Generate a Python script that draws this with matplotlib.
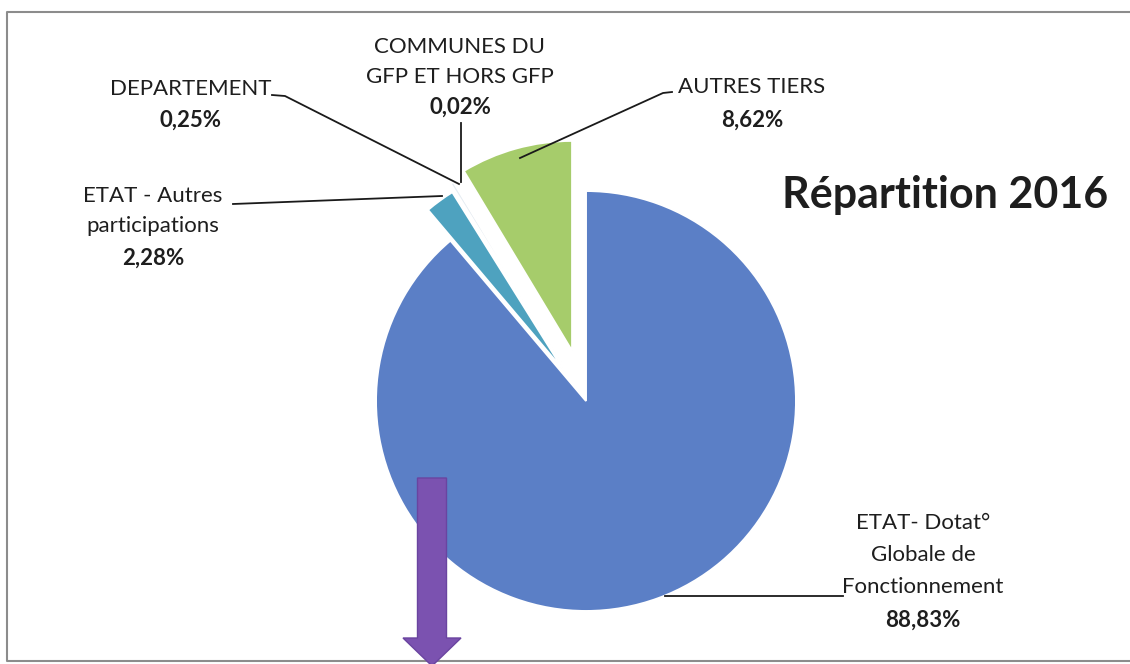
import matplotlib
matplotlib.use("Agg")
import matplotlib.pyplot as plt
from matplotlib.patches import FancyArrow

# Données de la répartition 2016
categories = ["ETAT- Dotat°\nGlobale de\nFonctionnement",
              "ETAT - Autres\nparticipations",
              "DEPARTEMENT",
              "COMMUNES DU\nGFP ET HORS GFP",
              "AUTRES TIERS"]
valeurs = [88.83, 2.28, 0.25, 0.02, 8.62]
couleurs = ["#5b7fc6", "#4ea2bf", "#e6ecf2", "#e6ecf2", "#a6cc6b"]
titre = "Répartition 2016"

W, H = 1130, 664
plt.rcParams['font.family'] = ['Lato', 'DejaVu Sans']

fig = plt.figure(figsize=(W / 100, H / 100), dpi=100)
ax = fig.add_axes([0, 0, 1, 1])

def py(y):
    # passage coordonnées pixel (haut -> bas) vers coordonnées de l'axe
    return H - y

"""Camembert"""
rayon = 210
centre = (586, py(401))
eclat = [0, 38, 46, 47, 52]
ax.pie(valeurs, colors=couleurs, startangle=90, counterclock=False,
       radius=rayon, center=centre, explode=eclat,
       wedgeprops=dict(edgecolor="white", linewidth=1.4))
ax.set_xlim(0, W)
ax.set_ylim(0, H)
ax.set_aspect('equal')
ax.axis('off')

"""Étiquettes : (x, y des lignes du nom), y du pourcentage"""
positions = [(923, [523, 555, 587], 620),
             (153, [196, 226], 258),
             (191, [89], 120),
             (460, [47, 77], 107),
             (752, [87], 120)]
taille = 16
encre = "#1e1e1e"
for nom, val, (x, ys, ypct) in zip(categories, valeurs, positions):
    for ligne, y in zip(nom.split("\n"), ys):
        ax.text(x, py(y), ligne, ha='center', va='center', fontsize=taille,
                color=encre)
    pct = ("%.2f%%" % val).replace(".", ",")
    ax.text(x, py(ypct), pct, ha='center', va='center', fontsize=taille,
            fontweight='bold', color=encre)

"""Traits de rappel"""
traits = [[(665, 596), (843, 596)],
          [(233, 204), (442, 196)],
          [(272, 95), (285, 96), (459, 184)],
          [(461, 123), (461, 182)],
          [(672, 92), (663, 93), (520, 158)]]
for t in traits:
    ax.plot([p[0] for p in t], [py(p[1]) for p in t], color="#1a1a1a", lw=1.3)

ax.text(945, py(195), titre, ha='center', va='center', fontsize=31,
        fontweight='bold', color=encre)

"""Flèche violette"""
ax.add_patch(FancyArrow(432, py(478), 0, -(666 - 478), width=29,
                        head_width=58, head_length=28,
                        length_includes_head=True, facecolor="#7b52b0",
                        edgecolor="#6a44a0", lw=1, zorder=5))

"""Cadre"""
ax.plot([W + 5, 7, 7, W + 5], [py(12), py(12), py(661), py(661)],
        color="#8c8c8c", lw=1.5)

plt.savefig("out.png", dpi=100)
